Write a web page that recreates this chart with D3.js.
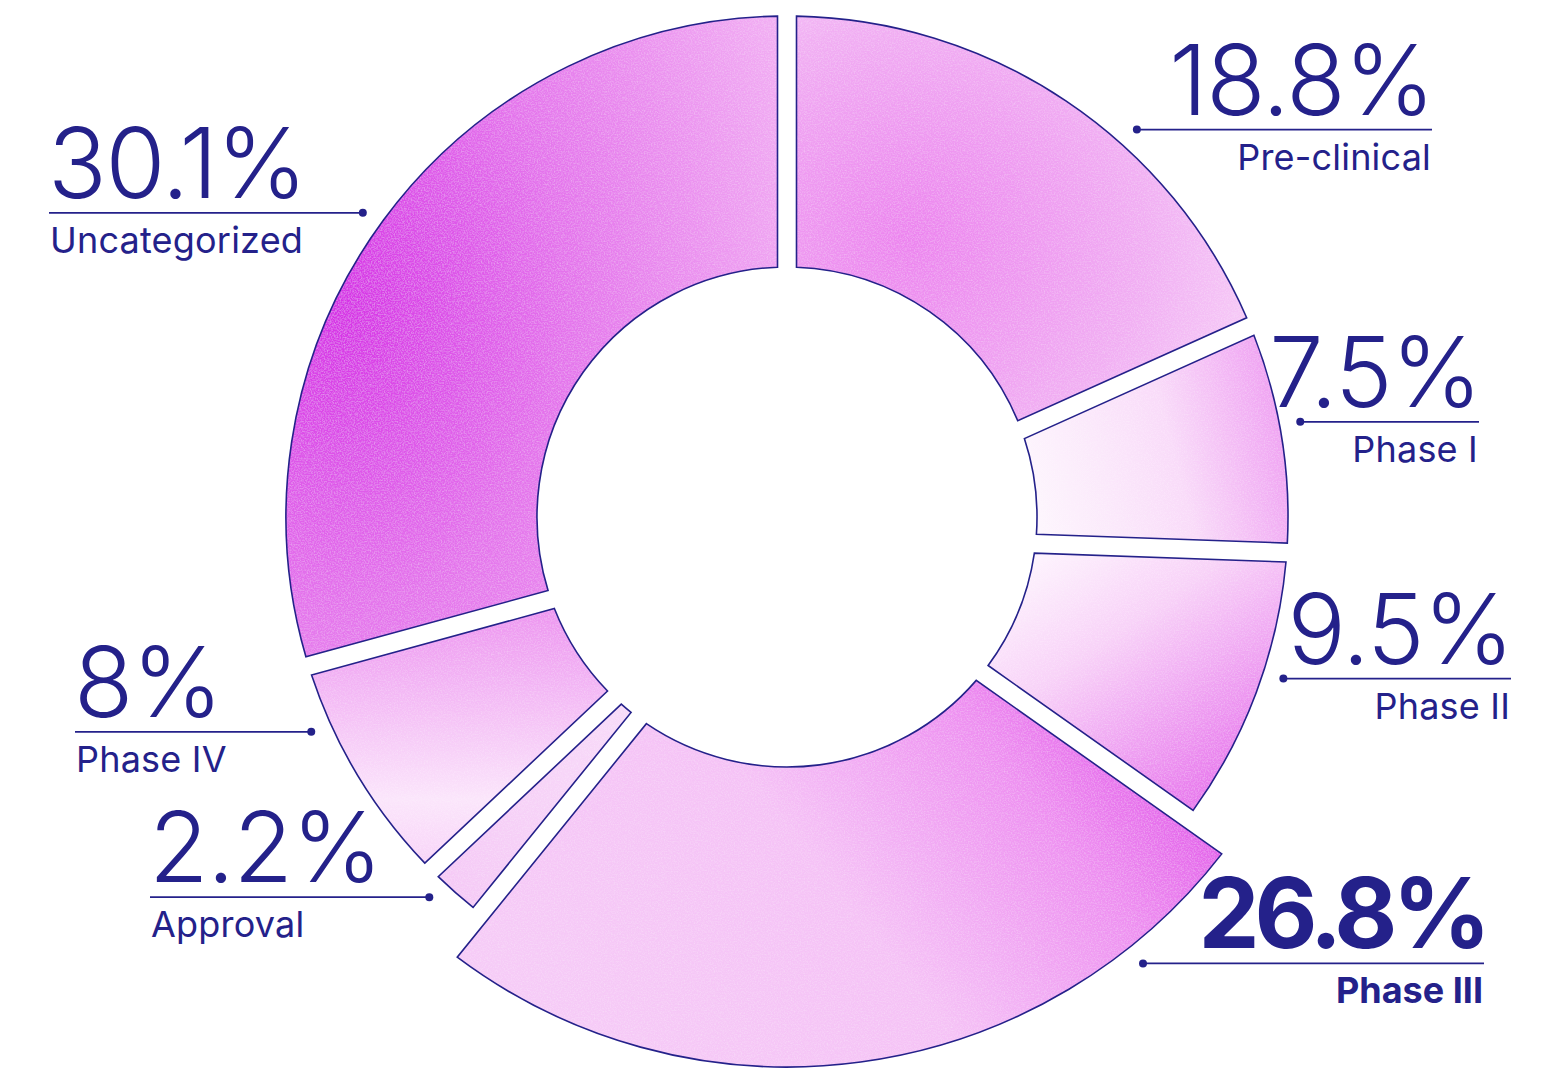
<!DOCTYPE html>
<html>
<head>
<meta charset="utf-8">
<script src="https://cdn.jsdelivr.net/npm/d3@7"></script>
<style>
  body { margin: 0; background: #fff; }
  svg { display: block; }
  text { font-family: Inter, "Noto Sans", sans-serif; fill: #24218a; }
</style>
</head>
<body>
<div id="chart"></div>
<script>
// data
const categories = ["Pre-clinical", "Phase I", "Phase II", "Phase III", "Approval", "Phase IV", "Uncategorized"];
const values = [18.8, 7.5, 9.5, 26.8, 2.2, 8, 30.1];
const valueLabels = ["18.8%", "7.5%", "9.5%", "26.8%", "2.2%", "8%", "30.1%"];
const highlighted = ["Phase III"];

const W = 1557, H = 1070;
const cx = 787, cy = 517;       // ring centre
const cutY = 535;               // the cuts between slices radiate from a point a little lower
const innerR = 250, outerR = 501, bigR = 550;
const gap = 19;
const INK = "#24218a";

// per slice fill (gradient geometry in bbox units + stops)
const fills = {
  "Pre-clinical": { radial: true, cx: 0.25, cy: 0.55, r: 0.95, stops: [[0, "#ec84ef"], [0.55, "#f1aef3"], [1, "#f9dcf9"]] },
  "Phase I": { x1: 0, y1: 0.6, x2: 1, y2: 0.4, stops: [[0, "#fdf5fd"], [0.55, "#f9dbf9"], [1, "#ef9ef2"]] },
  "Phase II": { x1: 0.1, y1: 0, x2: 0.9, y2: 1, stops: [[0, "#fef7fe"], [0.35, "#f8d2f8"], [1, "#e464eb"]] },
  "Phase III": { x1: 0, y1: 0.6, x2: 1, y2: 0.2, stops: [[0, "#f6cbf7"], [0.45, "#f5c2f6"], [0.75, "#ee90f1"], [1, "#df4ee8"]] },
  "Approval": { x1: 0, y1: 1, x2: 1, y2: 0, stops: [[0, "#f5c8f6"], [1, "#f8dbf9"]] },
  "Phase IV": { x1: 0, y1: 0, x2: 0, y2: 1, stops: [[0, "#ed94f0"], [0.75, "#fbe5fb"], [1, "#f8d4f8"]] },
  "Uncategorized": { radial: true, cx: 0.1, cy: 0.45, r: 1.05, stops: [[0, "#d632e6"], [0.45, "#e474ec"], [1, "#f3b4f4"]] }
};

// label placement: side, text edge x, nudge of the dot angle (degrees)
const labelLayout = {
  "Pre-clinical": { side: "right", x: 1431, shift: 9.2 },
  "Phase I": { side: "right", x: 1478, shift: 0.6 },
  "Phase II": { side: "right", x: 1510, shift: -0.6 },
  "Phase III": { side: "right", x: 1483, shift: -30.7 },
  "Approval": { side: "left", x: 151, shift: 0.4 },
  "Phase IV": { side: "left", x: 76, shift: 5.0 },
  "Uncategorized": { side: "left", x: 50, shift: -1.7 }
};

const rows = categories.map((c, i) => ({ name: c, value: values[i], label: valueLabels[i] }));

const svg = d3.select("#chart").append("svg")
  .attr("width", W).attr("height", H);

const defs = svg.append("defs");

// light grain over the fills
const grain = defs.append("filter").attr("id", "grain")
  .attr("x", "0").attr("y", "0").attr("width", "100%").attr("height", "100%");
grain.append("feTurbulence").attr("type", "fractalNoise").attr("baseFrequency", 0.7)
  .attr("numOctaves", 2).attr("seed", 7).attr("result", "noise");
grain.append("feColorMatrix").attr("in", "noise").attr("type", "matrix")
  .attr("values", "0 0 0 0 1  0 0 0 0 1  0 0 0 0 1  0.5 0 0 0 -0.2").attr("result", "specks");
grain.append("feComposite").attr("in", "specks").attr("in2", "SourceGraphic")
  .attr("operator", "in").attr("result", "clipped");
const merge = grain.append("feMerge");
merge.append("feMergeNode").attr("in", "SourceGraphic");
merge.append("feMergeNode").attr("in", "clipped");

Object.entries(fills).forEach(([name, f]) => {
  const g = f.radial
    ? defs.append("radialGradient").attr("cx", f.cx).attr("cy", f.cy).attr("r", f.r)
    : defs.append("linearGradient").attr("x1", f.x1).attr("y1", f.y1).attr("x2", f.x2).attr("y2", f.y2);
  g.attr("id", "fill" + categories.indexOf(name));
  f.stops.forEach(s => g.append("stop").attr("offset", s[0]).attr("stop-color", s[1]));
});

const pie = d3.pie().sort(null).value(d => d.value);
const arcs = pie(rows);

// slice outline: arcs about the ring centre, straight cuts parallel to rays from (cx, cutY)
function slicePath(a0, a1, R) {
  const h = gap / 2;
  const u0 = [Math.sin(a0), -Math.cos(a0)], n0 = [Math.cos(a0), Math.sin(a0)];
  const u1 = [Math.sin(a1), -Math.cos(a1)], n1 = [Math.cos(a1), Math.sin(a1)];
  const q0 = [cx + h * n0[0], cutY + h * n0[1]];
  const q1 = [cx - h * n1[0], cutY - h * n1[1]];
  const hit = (q, u, r) => {
    const dx = q[0] - cx, dy = q[1] - cy;
    const b = dx * u[0] + dy * u[1];
    const c = dx * dx + dy * dy - r * r;
    const t = -b + Math.sqrt(b * b - c);
    return [q[0] + t * u[0], q[1] + t * u[1]];
  };
  const ang = p => Math.atan2(p[1] - cy, p[0] - cx);
  const o0 = hit(q0, u0, R), o1 = hit(q1, u1, R);
  const i0 = hit(q0, u0, innerR), i1 = hit(q1, u1, innerR);
  const p = d3.path();
  p.moveTo(o0[0], o0[1]);
  p.arc(cx, cy, R, ang(o0), ang(o1), false);
  p.lineTo(i1[0], i1[1]);
  p.arc(cx, cy, innerR, ang(i1), ang(i0), true);
  p.closePath();
  return p.toString();
}

const radiusOf = d => highlighted.includes(d.data.name) ? bigR : outerR;

const slices = svg.append("g");
slices.selectAll("path.fill")
  .data(arcs)
  .join("path")
  .attr("class", "fill")
  .attr("d", d => slicePath(d.startAngle, d.endAngle, radiusOf(d)))
  .attr("fill", (d, i) => `url(#fill${i})`)
  .attr("filter", "url(#grain)");

slices.selectAll("path.edge")
  .data(arcs)
  .join("path")
  .attr("class", "edge")
  .attr("d", d => slicePath(d.startAngle, d.endAngle, radiusOf(d)))
  .attr("fill", "none")
  .attr("stroke", INK)
  .attr("stroke-width", 1.6)
  .attr("stroke-linejoin", "miter");

// labels
svg.append("g").selectAll("g")
  .data(arcs)
  .join("g")
  .each(function (d) {
    const lay = labelLayout[d.data.name];
    const bold = highlighted.includes(d.data.name);
    const theta = (d.startAngle + d.endAngle) / 2 + lay.shift * Math.PI / 180;
    const rho = radiusOf(d) + 21;
    const px = cx + rho * Math.sin(theta), py = cy - rho * Math.cos(theta);
    const g = d3.select(this);
    const anchor = lay.side === "right" ? "end" : "start";

    g.append("line")
      .attr("x1", px).attr("y1", py)
      .attr("x2", lay.x + (lay.side === "right" ? 1 : -1)).attr("y2", py)
      .attr("stroke", INK).attr("stroke-width", 1.8);
    g.append("circle")
      .attr("cx", px).attr("cy", py).attr("r", 4)
      .attr("fill", INK);
    g.append("text")
      .attr("x", lay.x + (lay.side === "right" ? 3 : -2)).attr("y", py - 15)
      .attr("text-anchor", anchor)
      .attr("font-size", 97)
      .attr("font-weight", bold ? 700 : 300)
      .attr("letter-spacing", bold ? -5 : -1.2)
      .text(d.data.label);
    g.append("text")
      .attr("x", lay.x).attr("y", py + 40)
      .attr("text-anchor", anchor)
      .attr("font-size", 36)
      .attr("font-weight", bold ? 700 : 400)
      .attr("letter-spacing", bold ? 0 : 0.2)
      .text(d.data.name);
  });
</script>
</body>
</html>
